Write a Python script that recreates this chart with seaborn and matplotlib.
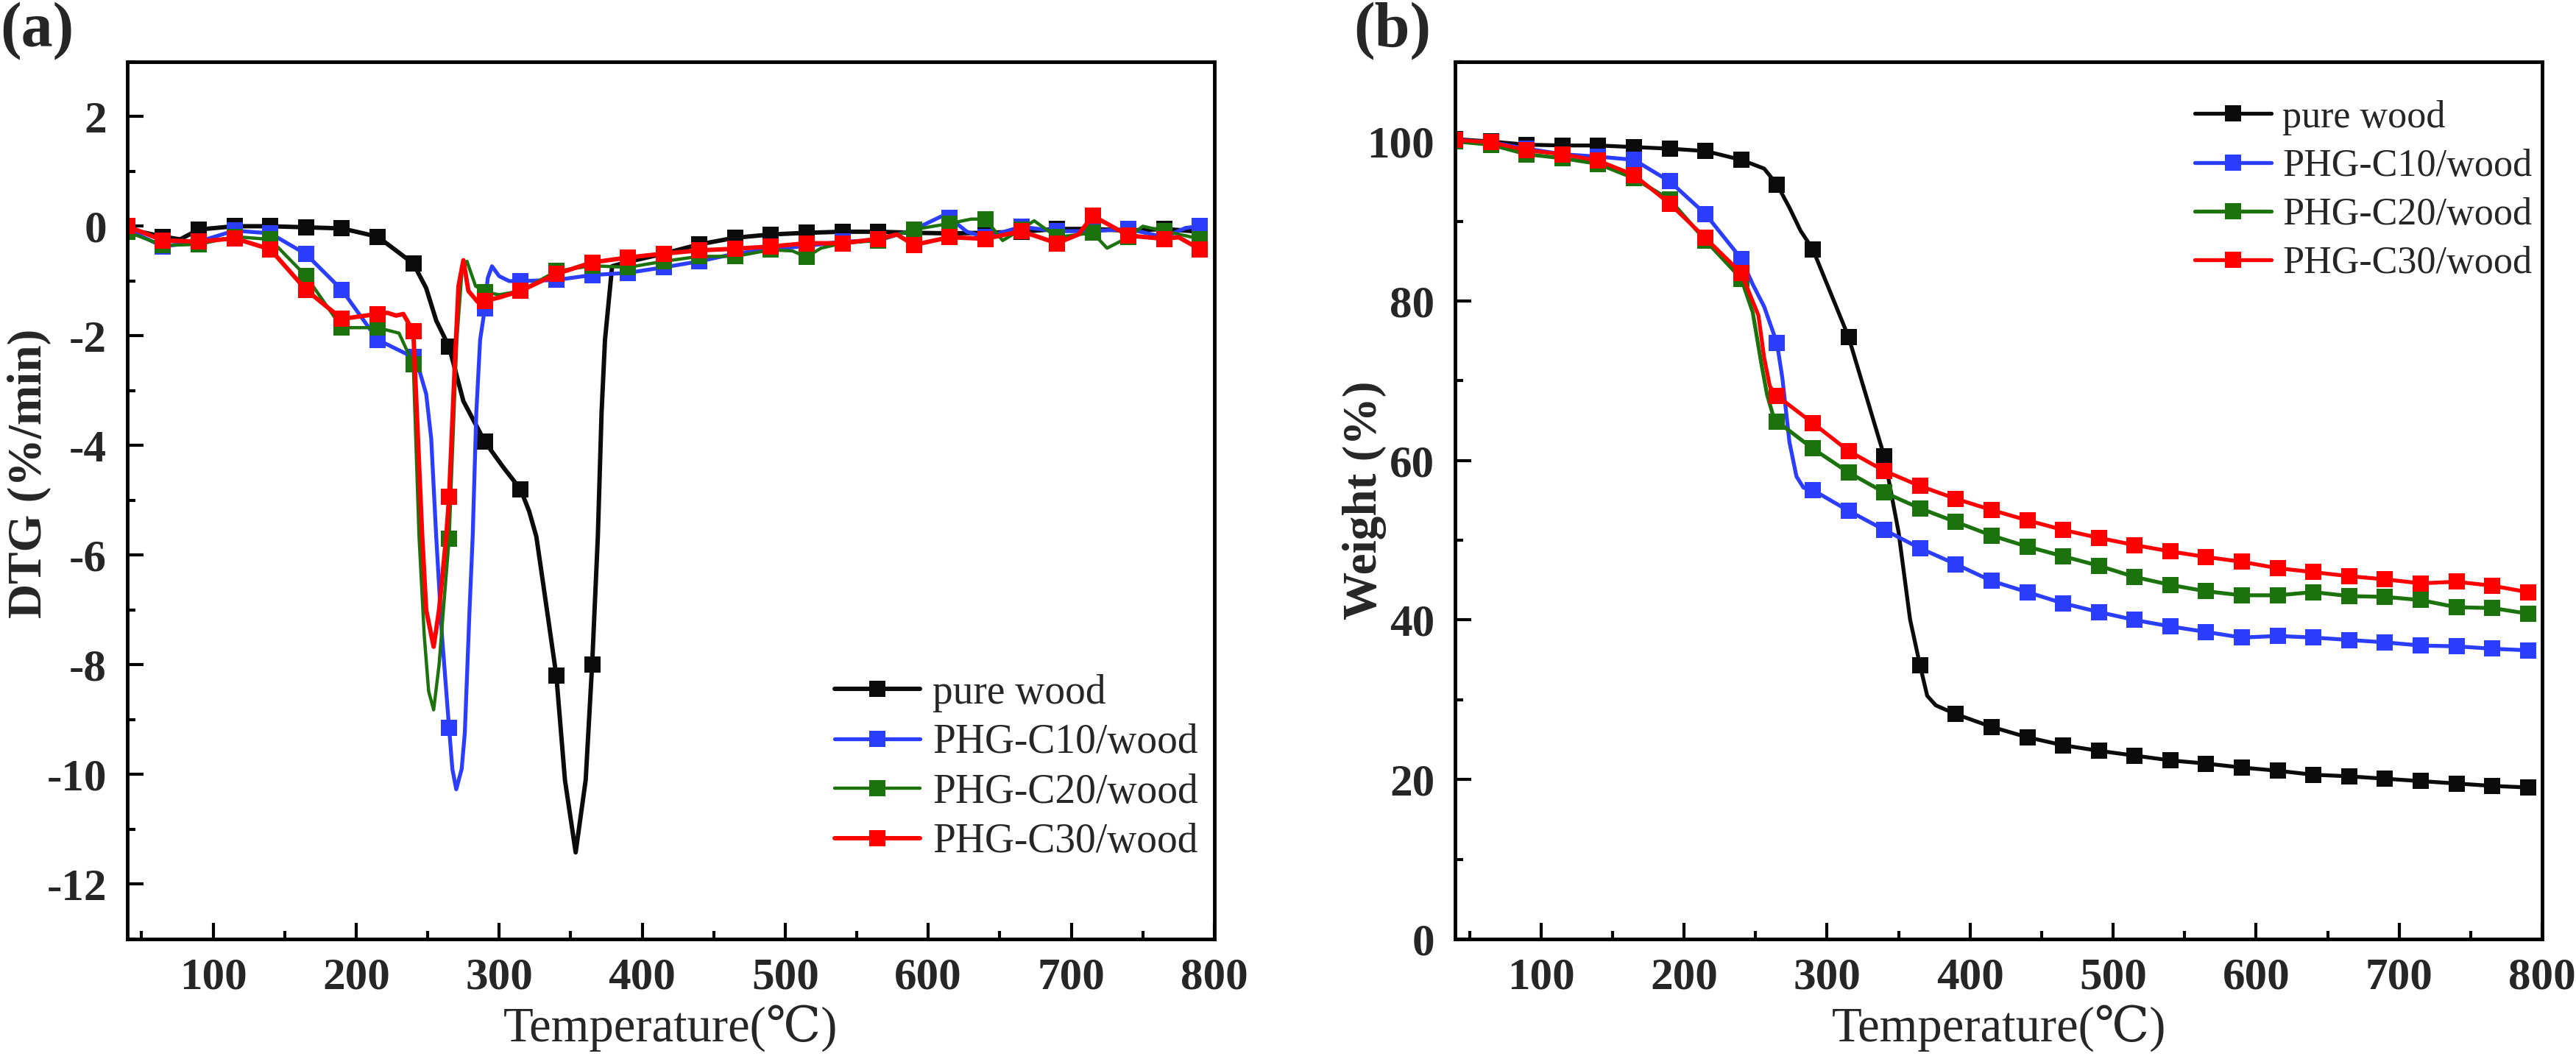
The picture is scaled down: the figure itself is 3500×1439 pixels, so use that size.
import numpy as np
import seaborn as sns
import matplotlib.pyplot as plt
from matplotlib.ticker import MultipleLocator

sns.set_style('ticks')
plt.rcParams['font.family'] = ['Liberation Serif', 'DejaVu Serif', 'DejaVu Sans']
plt.rcParams['axes.unicode_minus'] = False

names = ['pure wood', 'PHG-C10/wood', 'PHG-C20/wood', 'PHG-C30/wood']
colors = ['#0b0b0b', '#2b3dff', '#1c730d', '#ff0000']

# ---- (a) DTG, %/min ----
t_dtg_wood = [40, 65, 77, 90, 115, 140, 165, 190, 215, 240, 249, 256, 265, 275, 290, 303, 315,
              321, 326, 331, 340, 346, 353.5, 360.5, 365, 369, 371.6, 374, 379, 390, 415, 440,
              465, 490, 515, 540, 565, 590, 615, 640, 665, 690, 715, 740, 765, 790]
dtg_wood = [-0.05, -0.19, -0.24, -0.06, 0.0, 0.0, -0.02, -0.04, -0.19, -0.68, -1.13, -1.72, -2.2,
            -3.19, -3.93, -4.4, -4.8, -5.2, -5.66, -6.56, -8.2, -10.1, -11.42, -10.1, -8.0, -5.66,
            -3.4, -2.07, -0.73, -0.65, -0.5, -0.33, -0.21, -0.15, -0.12, -0.1, -0.1, -0.12, -0.13,
            -0.12, -0.1, -0.05, -0.05, -0.08, -0.05, -0.1]

t_dtg_c10 = [40, 65, 90, 115, 140, 165, 190, 215, 240, 244, 249, 252.5, 256, 260, 265, 267.3, 270,
             273.8, 276, 279.3, 281.5, 284, 286.7, 290, 292, 295, 300, 307, 315, 340, 365, 390, 415,
             440, 465, 490, 515, 540, 565, 590, 610, 615, 627, 640, 665, 690, 715, 740, 765, 780, 790]
dtg_c10 = [-0.06, -0.37, -0.28, -0.08, -0.13, -0.51, -1.16, -2.07, -2.39, -2.61, -3.06, -3.87,
           -5.66, -7.45, -9.15, -9.9, -10.27, -9.9, -9.24, -7.0, -5.66, -3.42, -2.07, -1.5, -0.95,
           -0.73, -0.91, -1.0, -1.0, -0.98, -0.89, -0.85, -0.75, -0.64, -0.5, -0.42, -0.36, -0.28,
           -0.26, -0.06, 0.19, 0.15, -0.1, -0.2, -0.01, -0.09, -0.09, -0.05, -0.2, -0.03, 0.0]

t_dtg_c20 = [40, 65, 90, 115, 140, 165, 190, 215, 230, 240, 244, 247.6, 250.7, 254.2, 258, 261, 265,
             270.4, 274, 277.5, 283.5, 290, 300, 315, 340, 365, 390, 415, 440, 465, 490, 505, 515,
             525, 540, 565, 590, 615, 630, 640, 652, 665, 674, 690, 715, 725, 740, 750, 765, 790]
dtg_c20 = [-0.1, -0.35, -0.33, -0.19, -0.24, -0.91, -1.85, -1.85, -1.95, -2.52, -5.66, -7.45, -8.48,
           -8.82, -8.0, -7.0, -5.7, -2.07, -0.82, -0.64, -1.09, -1.2, -1.25, -1.18, -0.82, -0.72,
           -0.75, -0.64, -0.55, -0.55, -0.43, -0.45, -0.56, -0.4, -0.31, -0.26, -0.06, 0.05, 0.13,
           0.13, -0.26, -0.06, 0.1, -0.2, -0.12, -0.4, -0.2, 0.0, -0.09, -0.23]

t_dtg_c30 = [40, 65, 90, 115, 140, 165, 190, 215, 222, 228, 233, 240, 246.2, 249, 254.2, 258, 263,
             265, 269, 271.6, 275, 278.5, 285, 290, 300, 315, 340, 365, 390, 415, 440, 465, 490,
             515, 540, 565, 578, 590, 615, 640, 665, 690, 705, 715, 740, 765, 775, 790]
dtg_c30 = [0.0, -0.26, -0.28, -0.22, -0.42, -1.16, -1.69, -1.6, -1.58, -1.63, -1.6, -1.92, -5.66,
           -7.0, -7.67, -7.0, -5.66, -4.94, -2.52, -1.09, -0.62, -1.18, -1.38, -1.36, -1.3, -1.18,
           -0.87, -0.66, -0.57, -0.5, -0.44, -0.41, -0.37, -0.31, -0.31, -0.23, -0.15, -0.34, -0.2,
           -0.23, -0.09, -0.31, -0.15, 0.19, -0.17, -0.23, -0.2, -0.42]

# ---- (b) TG, weight % ----
t_tg_wood = [40, 65, 90, 115, 140, 165, 190, 215, 240, 256, 265, 273.7, 281.5, 290, 315, 340, 350,
             358, 365, 370, 376, 390, 415, 440, 465, 490, 515, 540, 565, 590, 615, 640, 665, 690,
             715, 740, 765, 790]
tg_wood = [100.3, 100.0, 99.6, 99.5, 99.5, 99.3, 99.1, 98.8, 97.7, 96.6, 94.6, 91.7, 88.8, 86.5,
           75.5, 60.5, 51.0, 40.1, 34.3, 30.5, 29.3, 28.2, 26.6, 25.3, 24.3, 23.6, 23.0, 22.4, 22.0,
           21.5, 21.1, 20.6, 20.4, 20.1, 19.8, 19.5, 19.2, 19.0]

t_tg_c10 = [40, 65, 90, 115, 140, 165, 190, 215, 240, 248, 256, 265, 268.7, 273.7, 278.6, 283.5, 290,
            315, 340, 365, 390, 415, 440, 465, 490, 515, 540, 565, 590, 615, 640, 665, 690, 715,
            740, 765, 790]
tg_c10 = [100.2, 99.9, 99.1, 98.4, 98.1, 97.7, 95.0, 90.9, 85.3, 82.1, 79.3, 74.7, 70.4, 62.3, 58.0,
          56.6, 56.3, 53.7, 51.3, 49.0, 47.0, 44.9, 43.5, 42.1, 41.0, 40.0, 39.2, 38.5, 37.8, 38.0,
          37.8, 37.5, 37.2, 36.8, 36.7, 36.4, 36.2]

t_tg_c20 = [40, 65, 90, 115, 140, 165, 190, 215, 240, 248, 254, 258, 262, 265, 290, 315, 340, 365,
            390, 415, 440, 465, 490, 515, 540, 565, 590, 615, 640, 665, 690, 715, 740, 765, 790]
tg_c20 = [100.0, 99.6, 98.4, 97.9, 97.2, 95.4, 92.7, 87.6, 82.8, 78.6, 72.2, 68.3, 65.8, 64.9, 61.5,
          58.5, 56.0, 54.0, 52.3, 50.6, 49.2, 48.0, 46.8, 45.4, 44.4, 43.6, 43.1, 43.1, 43.5, 43.0,
          42.9, 42.5, 41.6, 41.5, 40.8]

t_tg_c30 = [40, 65, 90, 115, 140, 165, 190, 215, 240, 252, 256, 260, 265, 290, 315, 340, 365, 390,
            415, 440, 465, 490, 515, 540, 565, 590, 615, 640, 665, 690, 715, 740, 765, 790]
tg_c30 = [100.2, 99.9, 98.9, 98.4, 97.6, 95.8, 92.2, 87.9, 83.5, 78.2, 72.9, 69.3, 68.1, 64.7, 61.2,
          58.7, 56.8, 55.2, 53.8, 52.5, 51.3, 50.3, 49.4, 48.6, 47.9, 47.3, 46.5, 46.0, 45.5, 45.1,
          44.6, 44.8, 44.3, 43.5]

mark_t = np.arange(40, 791, 25)

fig = plt.figure(figsize=(35, 14.39), dpi=100)
ax1 = fig.add_axes([0.0494, 0.1133, 0.422, 0.8284])
ax2 = fig.add_axes([0.5649, 0.1133, 0.422, 0.8284])

dtg = [(t_dtg_wood, dtg_wood), (t_dtg_c10, dtg_c10), (t_dtg_c20, dtg_c20), (t_dtg_c30, dtg_c30)]
tg = [(t_tg_wood, tg_wood), (t_tg_c10, tg_c10), (t_tg_c20, tg_c20), (t_tg_c30, tg_c30)]
lw_a = [4.3, 3.8, 3.2, 4.3]

for i, (t, v) in enumerate(dtg):
    t = np.array(t, dtype=float)
    sns.lineplot(x=t, y=v, ax=ax1, color=colors[i], lw=lw_a[i], marker='s', ms=16,
                 markeredgewidth=0, markevery=list(np.isin(t, mark_t)), label=names[i],
                 sort=False, estimator=None)

for i, (t, v) in enumerate(tg):
    t = np.array(t, dtype=float)
    sns.lineplot(x=t, y=v, ax=ax2, color=colors[i], lw=3.8, marker='s', ms=16,
                 markeredgewidth=0, markevery=list(np.isin(t, mark_t)), label=names[i],
                 sort=False, estimator=None)

ax1.set_xlim(40, 800)
ax1.set_ylim(-13, 3)
ax1.yaxis.set_major_locator(MultipleLocator(2))
ax1.yaxis.set_minor_locator(MultipleLocator(1))
ax2.set_xlim(40, 800)
ax2.set_ylim(0, 110)
ax2.yaxis.set_major_locator(MultipleLocator(20))
ax2.yaxis.set_minor_locator(MultipleLocator(10))

for ax in (ax1, ax2):
    ax.xaxis.set_major_locator(MultipleLocator(100))
    ax.xaxis.set_minor_locator(MultipleLocator(50))
    for s in ax.spines.values():
        s.set_linewidth(3.5)
        s.set_color('black')
    ax.tick_params(which='both', direction='in', top=False, right=False, width=3, color='black')
    ax.tick_params(which='major', length=16, labelsize=44, pad=18)
    ax.tick_params(which='minor', length=8)
    ax.tick_params(axis='y', which='major', pad=20)
    for lab in ax.get_xticklabels() + ax.get_yticklabels():
        lab.set_fontweight('bold')
    ax.set_xlabel('Temperature(℃)', fontsize=48)
    ax.xaxis.set_label_coords(0.5, -0.075)

ax1.set_ylabel('DTG (%/min)', fontsize=47, fontweight='bold')
ax1.yaxis.set_label_coords(-0.07, 0.531)
ax2.set_ylabel('Weight (%)', fontsize=47, fontweight='bold')
ax2.yaxis.set_label_coords(-0.063, 0.5)

ax1.legend(loc='lower right', bbox_to_anchor=(1.0, 0.07), frameon=False, fontsize=40,
           handlelength=2.1, handletextpad=0.3, labelspacing=0.28, borderaxespad=0)
ax2.legend(loc='upper right', bbox_to_anchor=(1.005, 0.974), frameon=False, fontsize=37.5,
           handlelength=2.0, handletextpad=0.3, labelspacing=0.35, borderaxespad=0)

fig.text(0.0, 0.971, '(a)', fontsize=62, fontweight='bold', va='center', ha='left')
fig.text(0.5254, 0.971, '(b)', fontsize=62, fontweight='bold', va='center', ha='left')

fig.savefig('out.png', dpi=100)
